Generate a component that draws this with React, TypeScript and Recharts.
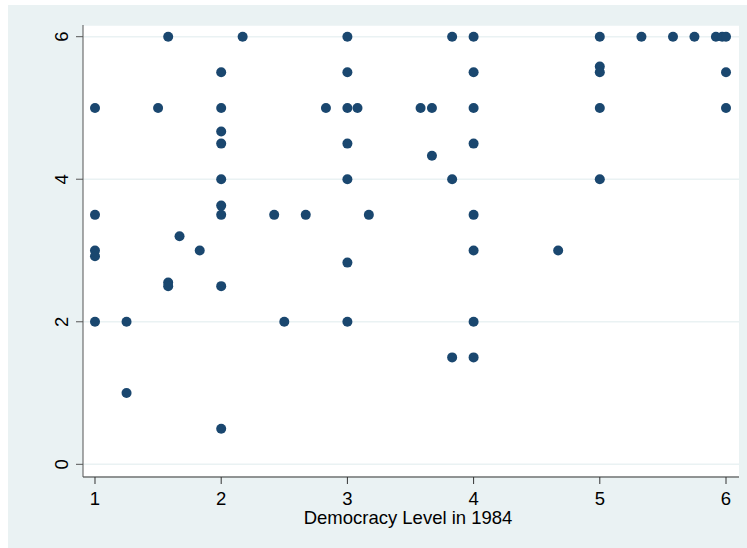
import React from 'react';
import { ScatterChart, Scatter, XAxis, YAxis, CartesianGrid } from 'recharts';

// democracy level in 1984 (x) and the plotted score (y), point by point
const democracy1984 = [
  1, 1, 1, 1, 1,
  1.25, 1.25,
  1.5, 1.58, 1.58, 1.58, 1.67, 1.83,
  2, 2, 2, 2, 2, 2, 2, 2, 2,
  2.17, 2.42, 2.5, 2.67, 2.83,
  3, 3, 3, 3, 3, 3, 3,
  3.08, 3.17, 3.58, 3.67, 3.67,
  3.83, 3.83, 3.83,
  4, 4, 4, 4, 4, 4, 4, 4,
  4.67,
  5, 5, 5, 5, 5,
  5.33, 5.58, 5.75, 5.92, 5.97, 6, 6, 6,
];
const scores = [
  5, 3.5, 3, 2.92, 2,
  2, 1,
  5, 6, 2.55, 2.5, 3.2, 3,
  5.5, 5, 4.67, 4.5, 4, 3.63, 3.5, 2.5, 0.5,
  6, 3.5, 2, 3.5, 5,
  6, 5.5, 5, 4.5, 4, 2.83, 2,
  5, 3.5, 5, 5, 4.33,
  6, 4, 1.5,
  6, 5.5, 5, 4.5, 3.5, 3, 2, 1.5,
  3,
  6, 5.58, 5.5, 5, 4,
  6, 6, 6, 6, 6, 6, 5.5, 5,
];
const xTicks = [1, 2, 3, 4, 5, 6];
const yTicks = [0, 2, 4, 6];

const data = democracy1984.map((x, i) => ({ x, y: scores[i] }));

const BG = '#eaf2f3';
const NAVY = '#1a476f';
const FONT = '"Liberation Sans", Arial, sans-serif';
const FS = 18.5;

function YTick(props: any) {
  const { x, y, payload } = props;
  const tx = x - 8;
  return (
    <text
      x={tx}
      y={y}
      transform={`rotate(-90, ${tx}, ${y})`}
      textAnchor="middle"
      fontSize={FS}
      fontFamily={FONT}
      fill="#000"
    >
      {payload.value}
    </text>
  );
}

export default function App() {
  return (
    <div style={{ position: 'fixed', left: 8, top: 5, width: 739, height: 543, background: BG }}>
      <ScatterChart width={739} height={543} margin={{ top: 20, right: 8, left: 0, bottom: 21 }}>
        <CartesianGrid vertical={false} fill="#ffffff" stroke={BG} strokeWidth={1.5} />
        <XAxis
          type="number"
          dataKey="x"
          domain={[0.905, 6.103]}
          ticks={xTicks}
          interval={0}
          allowDataOverflow
          height={50}
          tickSize={7}
          tickMargin={8}
          axisLine={{ stroke: '#333' }}
          tickLine={{ stroke: '#333' }}
          tick={{ fill: '#000', fontSize: FS, fontFamily: FONT }}
          label={{ value: 'Democracy Level in 1984', position: 'insideBottom', offset: 3, dx: -3, fill: '#000', fontSize: FS, fontFamily: FONT }}
        />
        <YAxis
          type="number"
          dataKey="y"
          domain={[-0.178, 6.164]}
          ticks={yTicks}
          interval={0}
          allowDataOverflow
          width={75}
          tickSize={7}
          tickMargin={0}
          axisLine={{ stroke: '#555' }}
          tickLine={{ stroke: '#555' }}
          tick={<YTick />}
        />
        <Scatter
          data={data}
          isAnimationActive={false}
          shape={(p: any) => <circle cx={p.cx} cy={p.cy} r={5} fill={NAVY} />}
        />
      </ScatterChart>
    </div>
  );
}
